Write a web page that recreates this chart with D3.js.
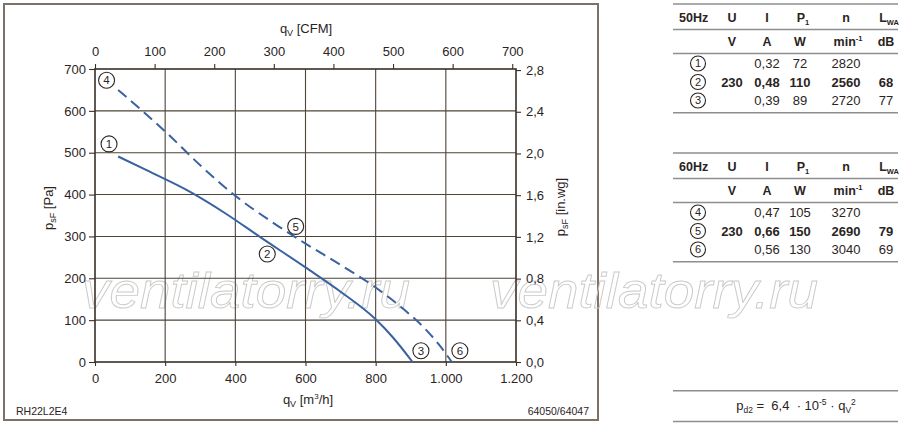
<!DOCTYPE html>
<html>
<head>
<meta charset="utf-8">
<script src="https://cdn.jsdelivr.net/npm/d3@7"></script>
<style>
  html, body { margin: 0; padding: 0; background: #fff; }
  svg { display: block; font-family: "Liberation Sans", Arial, sans-serif; }
</style>
</head>
<body>
<svg id="chart" width="900" height="426"></svg>
<script>
// curve 1-2-3 (50Hz, solid) and 4-5-6 (60Hz, dashed), qv in m3/h, psF in Pa
const qv50 = [66, 150, 270, 370, 470, 600, 700, 800, 850, 905];
const ps50 = [491, 457, 407, 356, 299, 226, 168, 102, 58, 0];
const qv60 = [66, 200, 300, 400, 500, 600, 700, 800, 880, 940, 980, 1017];
const ps60 = [650, 551, 470, 397, 337, 283, 232, 178, 126, 80, 42, 0];

const xTicks = [0, 200, 400, 600, 800, 1000, 1200];
const xTickLabels = ["0", "200", "400", "600", "800", "1.000", "1.200"];
const yTicks = [0, 100, 200, 300, 400, 500, 600, 700];
const cfmTicks = [0, 100, 200, 300, 400, 500, 600, 700];
const inwgTicks = [0, 0.4, 0.8, 1.2, 1.6, 2.0, 2.4, 2.8];

// circled point numbers, placed in data units (qv, psF)
const pointIds = ["4", "1", "5", "2", "3", "6"];
const pointQ = [33, 40, 572, 491, 929, 1040];
const pointP = [673, 521, 324, 258, 27, 27];

// tables
const headCols = ["U", "I", "P", "n", "L"];
const headSubs = ["", "", "1", "", "WA"];
const unitCols = ["V", "A", "W", "min", "dB"];
const rows50 = [
  ["1", "", "0,32", "72", "2820", ""],
  ["2", "230", "0,48", "110", "2560", "68"],
  ["3", "", "0,39", "89", "2720", "77"]
];
const rows60 = [
  ["4", "", "0,47", "105", "3270", ""],
  ["5", "230", "0,66", "150", "2690", "79"],
  ["6", "", "0,56", "130", "3040", "69"]
];

const M3H_PER_CFM = 1.699;
const PA_PER_INWG = 249.09;
const ink = "#2b241e";
const gridCol = "#4e4439";
const blue = "#3a62a0";

const svg = d3.select("#chart");

const x = d3.scaleLinear().domain([0, 1200]).range([95, 516]);
const y = d3.scaleLinear().domain([0, 700]).range([362, 69]);
const xCfm = d3.scaleLinear().domain([0, 700]).range([x(0), x(700 * M3H_PER_CFM)]);
const yInwg = d3.scaleLinear().domain([0, 2.8]).range([y(0), y(2.8 * PA_PER_INWG)]);

// outer frame
svg.append("rect")
  .attr("x", 4).attr("y", 4).attr("width", 594).attr("height", 416)
  .attr("fill", "none").attr("stroke", "#7d7265").attr("stroke-width", 2);

// watermark
["ventilatorry.ru", "ventilatorry.ru"].forEach((t, i) => {
  svg.append("text")
    .attr("x", i === 0 ? 82 : 490).attr("y", 308)
    .attr("font-size", 50).attr("font-style", "italic")
    .attr("textLength", 328).attr("lengthAdjust", "spacingAndGlyphs")
    .attr("fill", "none").attr("stroke", "#cacaca").attr("stroke-width", 0.9)
    .text(t);
});

// grid
const grid = svg.append("g");
grid.selectAll("line.v")
  .data(xTicks.filter(d => d > 0 && d < 1200))
  .enter().append("line")
  .attr("x1", d => x(d)).attr("x2", d => x(d))
  .attr("y1", y(0)).attr("y2", y(700))
  .attr("stroke", gridCol).attr("stroke-width", 1.1);
grid.selectAll("line.h")
  .data(yTicks.filter(d => d > 0 && d < 700))
  .enter().append("line")
  .attr("x1", x(0)).attr("x2", x(1200))
  .attr("y1", d => y(d)).attr("y2", d => y(d))
  .attr("stroke", gridCol).attr("stroke-width", 1.1);
svg.append("rect")
  .attr("x", x(0)).attr("y", y(700))
  .attr("width", x(1200) - x(0)).attr("height", y(0) - y(700))
  .attr("fill", "none").attr("stroke", "#3a3026").attr("stroke-width", 1.6);

function styleAxis(g) {
  g.select(".domain").remove();
  g.selectAll(".tick line").attr("stroke", "#3a3026").attr("stroke-width", 1.1);
  g.selectAll(".tick text").attr("fill", ink).attr("font-size", 13);
}

svg.append("g").attr("transform", `translate(0,${y(0)})`)
  .call(d3.axisBottom(x).tickValues(xTicks).tickSize(4).tickPadding(7.5)
    .tickFormat((d, i) => xTickLabels[i]))
  .call(styleAxis);
svg.append("g").attr("transform", `translate(${x(0)},0)`)
  .call(d3.axisLeft(y).tickValues(yTicks).tickSize(6).tickPadding(3))
  .call(styleAxis);
svg.append("g").attr("transform", `translate(0,${y(700)})`)
  .call(d3.axisTop(xCfm).tickValues(cfmTicks).tickSize(5).tickPadding(8))
  .call(styleAxis);
svg.append("g").attr("transform", `translate(${x(1200)},0)`)
  .call(d3.axisRight(yInwg).tickValues(inwgTicks).tickSize(5).tickPadding(5)
    .tickFormat(d => d3.format(".1f")(d).replace(".", ",")))
  .call(styleAxis);

// axis titles
function subTitle(parent, main, sub, rest) {
  const t = parent.append("text").attr("fill", ink).attr("font-size", 13).attr("text-anchor", "middle");
  t.append("tspan").text(main);
  t.append("tspan").attr("font-size", 9).attr("dy", 3).text(sub);
  t.append("tspan").attr("dy", -3).text(rest);
  return t;
}
subTitle(svg, "q", "V", " [CFM]").attr("x", 306).attr("y", 33);
const bt = subTitle(svg, "q", "V", " [m").attr("x", 308).attr("y", 404);
bt.append("tspan").attr("font-size", 8).attr("dy", -5).text("3");
bt.append("tspan").attr("dy", 5).text("/h]");
subTitle(svg, "p", "sF", " [Pa]").attr("transform", "translate(53,208) rotate(-90)");
subTitle(svg, "p", "sF", " [in.wg]").attr("transform", "translate(565,207) rotate(-90)");

svg.append("text").attr("x", 16).attr("y", 415).attr("font-size", 10.5).attr("fill", ink).text("RH22L2E4");
svg.append("text").attr("x", 589).attr("y", 415).attr("font-size", 10.5).attr("fill", ink)
  .attr("text-anchor", "end").text("64050/64047");

// curves
const line = d3.line().x(d => x(d[0])).y(d => y(d[1])).curve(d3.curveMonotoneX);
svg.append("path").datum(d3.zip(qv50, ps50))
  .attr("d", line).attr("fill", "none").attr("stroke", blue).attr("stroke-width", 2);
svg.append("path").datum(d3.zip(qv60, ps60))
  .attr("d", line).attr("fill", "none").attr("stroke", blue).attr("stroke-width", 2)
  .attr("stroke-dasharray", "11,6");

function circled(parent, cx, cy, label, r, fs) {
  parent.append("circle").attr("cx", cx).attr("cy", cy).attr("r", r)
    .attr("fill", "#fff").attr("stroke", ink).attr("stroke-width", 1.1);
  parent.append("text").attr("x", cx).attr("y", cy + fs * 0.36)
    .attr("text-anchor", "middle").attr("font-size", fs).attr("fill", ink).text(label);
}
pointIds.forEach((id, i) => circled(svg, x(pointQ[i]), y(pointP[i]), id, 8, 11.5));

// tables
const colX = [698, 732, 767, 800, 846, 886];
const lineX0 = 673, lineX1 = 898;

function hline(yy) {
  svg.append("line").attr("x1", lineX0).attr("x2", lineX1).attr("y1", yy).attr("y2", yy)
    .attr("stroke", "#8e8e8e").attr("stroke-width", 1.6);
}

function table(top, hz, rows) {
  hline(top);
  hline(top + 25.5);
  hline(top + 49.5);
  hline(top + 108.7);
  svg.append("text").attr("x", 679).attr("y", top + 17.7).attr("font-size", 12.5)
    .attr("font-weight", "bold").attr("fill", ink).text(hz);
  headCols.forEach((h, i) => {
    const t = svg.append("text").attr("x", colX[i + 1] + (headSubs[i] ? 3 : 0)).attr("y", top + 17.7)
      .attr("font-size", 12.5).attr("font-weight", "bold").attr("fill", ink)
      .attr("text-anchor", "middle");
    t.append("tspan").text(h);
    if (headSubs[i]) t.append("tspan").attr("font-size", 7.5).attr("dy", 3).text(headSubs[i]);
  });
  unitCols.forEach((u, i) => {
    const t = svg.append("text").attr("x", colX[i + 1] + (u === "min" ? 2 : 0)).attr("y", top + 41.7)
      .attr("font-size", 12.5).attr("font-weight", "bold").attr("fill", ink)
      .attr("text-anchor", "middle");
    t.append("tspan").text(u);
    if (u === "min") t.append("tspan").attr("font-size", 7.5).attr("dy", -5).text("-1");
  });
  rows.forEach((r, ri) => {
    const base = top + 64 + ri * 18.5;
    circled(svg, colX[0], base - 4.5, r[0], 7.5, 11);
    r.slice(1).forEach((v, ci) => {
      if (!v) return;
      svg.append("text").attr("x", colX[ci + 1]).attr("y", base)
        .attr("font-size", 13).attr("text-anchor", "middle")
        .attr("font-weight", ri === 1 ? "bold" : "normal").attr("fill", ink).text(v);
    });
  });
}
table(4, "50Hz", rows50);
table(153, "60Hz", rows60);

// pressure formula
hline(390.7);
hline(421.5);
const f = svg.append("text").attr("x", 796).attr("y", 410).attr("font-size", 13)
  .attr("text-anchor", "middle").attr("fill", ink).style("white-space", "pre");
f.append("tspan").text("p");
f.append("tspan").attr("font-size", 8.5).attr("dy", 3).text("d2");
f.append("tspan").attr("dy", -3).text(" =  6,4  \u00b7 10");
f.append("tspan").attr("font-size", 8.5).attr("dy", -5).text("-5");
f.append("tspan").attr("dy", 5).text(" \u00b7 q");
f.append("tspan").attr("font-size", 8.5).attr("dy", 3).text("V");
f.append("tspan").attr("font-size", 8.5).attr("dy", -8).text("2");
</script>
</body>
</html>
